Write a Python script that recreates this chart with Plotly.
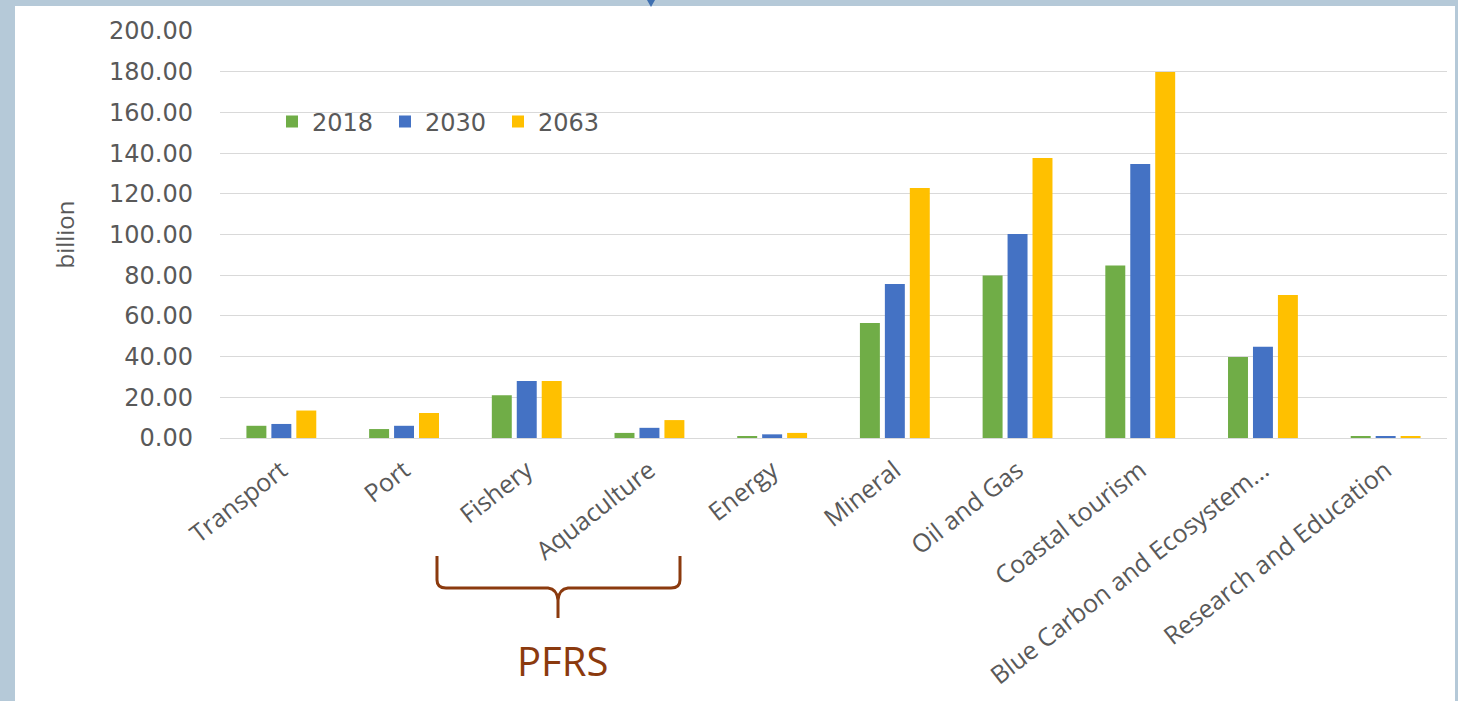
import plotly.graph_objects as go

categories = ["Transport", "Port", "Fishery", "Aquaculture", "Energy", "Mineral",
              "Oil and Gas", "Coastal tourism", "Blue Carbon and Ecosystem...", "Research and Education"]
v2018 = [6.0, 4.4, 21.0, 2.5, 1.0, 56.5, 79.8, 84.8, 39.8, 0.6]
v2030 = [6.9, 6.0, 28.0, 5.0, 1.8, 75.7, 100.3, 134.6, 44.8, 0.6]
v2063 = [13.5, 12.3, 28.0, 8.8, 2.5, 122.9, 137.6, 179.9, 70.3, 0.6]
series = [("2018", v2018, "#70AD47"), ("2030", v2030, "#4472C4"), ("2063", v2063, "#FFC000")]
y_ticks = [0, 20, 40, 60, 80, 100, 120, 140, 160, 180, 200]

W, H = 1458, 701
L, R, T, B = 220, 1447, 31, 438


def px(x):
    return (x - L) / (R - L)


def py(y):
    return (B - y) / (B - T)


def P(x, y):
    return f"{px(x):.5f},{py(y):.5f}"


fig = go.Figure()
for name, vals, col in series:
    fig.add_trace(go.Bar(x=categories, y=vals, name=name, marker_color=col,
                         marker_line_width=0))

brown = "#8B3A0E"
brace = (f"M {P(437,556)} L {P(437,580)} Q {P(437,588)} {P(446,588)} "
         f"L {P(548,588)} Q {P(557,589)} {P(558,600)} L {P(558,618)} "
         f"M {P(558,600)} Q {P(559,589)} {P(568,588)} L {P(671,588)} "
         f"Q {P(680,588)} {P(680,580)} L {P(680,556)}")

shapes = [
    dict(type="rect", xref="paper", yref="paper", x0=px(15), x1=px(1455), y0=py(705), y1=py(6),
         fillcolor="white", line_width=0, layer="below"),
    dict(type="path", xref="paper", yref="paper", path=brace,
         line=dict(color=brown, width=3)),
    dict(type="path", xref="paper", yref="paper",
         path=f"M {P(647,0)} L {P(655,0)} L {P(651,7)} Z",
         fillcolor="#3E6FB0", line_width=0),
]

fig.update_layout(
    width=W, height=H,
    margin=dict(l=L, r=W - R, t=T, b=H - B, autoexpand=False),
    paper_bgcolor="#B5C9D8",
    plot_bgcolor="rgba(0,0,0,0)",
    barmode="group", bargap=0.39, bargroupgap=0.2,
    font=dict(family="DejaVu Sans", color="#595959"),
    showlegend=True,
    legend=dict(orientation="h", x=px(272), y=py(122), xanchor="left", yanchor="middle",
                bgcolor="rgba(0,0,0,0)", font=dict(size=24, color="#595959", family="DejaVu Sans"),
                itemwidth=30, traceorder="normal", entrywidth=68, entrywidthmode="pixels"),
    xaxis=dict(tickangle=-38, tickfont=dict(size=25, color="#595959", family="Open Sans"),
               showgrid=False, showline=True, linecolor="#D9D9D9", linewidth=1, ticks="",
               ticklabelstandoff=7, automargin=False),
    yaxis=dict(range=[0, 200], tickvals=y_ticks, tickformat=".2f",
               tickfont=dict(size=24, color="#595959", family="DejaVu Sans"),
               gridcolor="#D9D9D9", gridwidth=1,
               zeroline=False, showline=False, ticks="", ticklabelstandoff=26,
               title=dict(text="billion", font=dict(size=24, color="#595959", family="Open Sans"),
                          standoff=27),
               automargin=False),
    shapes=shapes,
    annotations=[dict(text="PFRS", xref="paper", yref="paper", x=px(562), y=py(660),
                      showarrow=False, font=dict(size=40, color=brown, family="Open Sans"),
                      xanchor="center", yanchor="middle")],
)

fig.write_html("out.html", config={"displayModeBar": False},
               post_script="document.body.style.margin='0px';")
